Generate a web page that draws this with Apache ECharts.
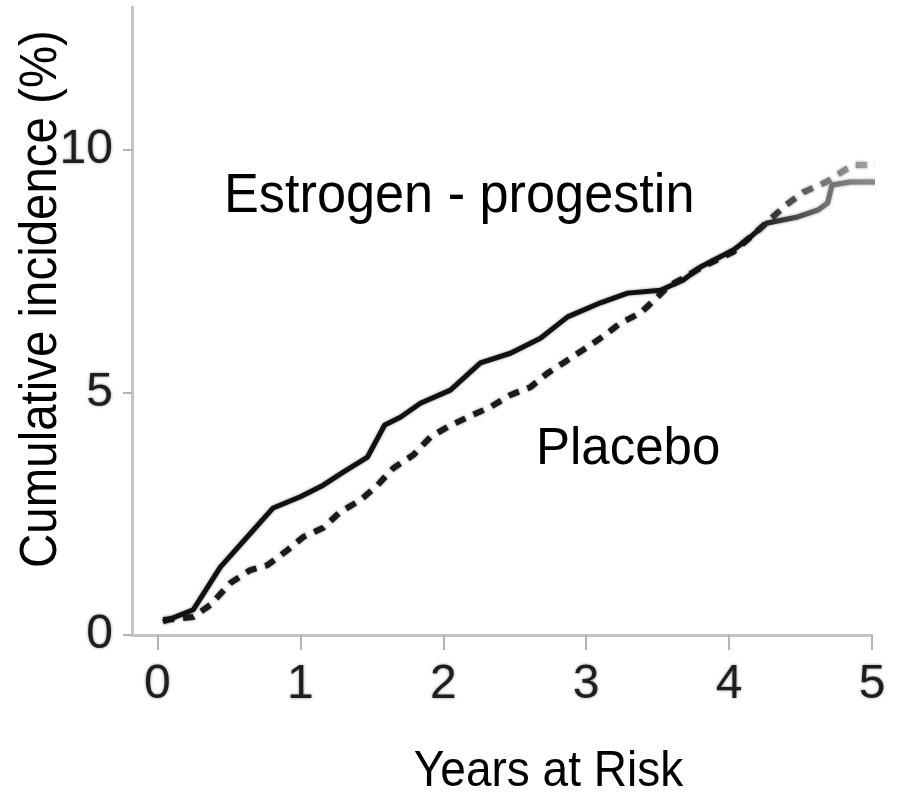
<!DOCTYPE html>
<html>
<head>
<meta charset="utf-8">
<script src="https://cdn.jsdelivr.net/npm/echarts@6/dist/echarts.min.js"></script>
<style>
  html, body { margin: 0; padding: 0; background: #fff; }
  #chart { width: 907px; height: 792px; }
</style>
</head>
<body>
<div id="chart"></div>
<script>
// Cumulative incidence (%) by years at risk, two treatment arms
const xTicks = [0, 1, 2, 3, 4, 5];
const xTickLabels = ['0', '1', '2', '3', '4', '5'];
const yTicks = [0, 5, 10];
const yTickLabels = ['0', '5', '10'];

const yearsEP = [0.04, 0.25, 0.44, 0.67, 0.81, 1.00, 1.16, 1.30, 1.47, 1.59, 1.70, 1.84, 2.05, 2.26, 2.47, 2.68, 2.87, 3.10, 3.29, 3.52, 3.68, 3.80, 4.03, 4.15, 4.26, 4.48, 4.62, 4.69, 4.72, 4.85, 5.17];
const incidenceEP = [0.27, 0.52, 1.40, 2.16, 2.62, 2.85, 3.09, 3.36, 3.67, 4.33, 4.49, 4.78, 5.05, 5.61, 5.81, 6.12, 6.56, 6.85, 7.05, 7.11, 7.32, 7.59, 7.94, 8.21, 8.49, 8.62, 8.76, 8.91, 9.28, 9.34, 9.34];

const yearsPlacebo = [0.04, 0.25, 0.37, 0.51, 0.65, 0.77, 0.91, 1.02, 1.16, 1.28, 1.42, 1.54, 1.65, 1.79, 1.91, 2.03, 2.17, 2.33, 2.47, 2.61, 2.73, 2.84, 2.98, 3.10, 3.24, 3.38, 3.50, 3.57, 3.68, 3.80, 4.03, 4.22, 4.40, 4.52, 4.68, 4.81, 4.88, 5.17];
const incidencePlacebo = [0.31, 0.37, 0.62, 1.07, 1.34, 1.44, 1.75, 2.02, 2.21, 2.54, 2.78, 3.09, 3.44, 3.71, 4.08, 4.29, 4.49, 4.70, 4.95, 5.11, 5.40, 5.61, 5.88, 6.12, 6.43, 6.64, 6.97, 7.18, 7.36, 7.57, 7.90, 8.39, 8.87, 9.13, 9.34, 9.59, 9.69, 9.69];

const pairs = (xs, ys) => xs.map((x, i) => [x, ys[i]]);

const tickFont = '"Liberation Sans", Arial, sans-serif';
const textFont = '"Liberation Sans", Arial, sans-serif';

const tickLabelStyle = {
  fontSize: 48,
  fontFamily: tickFont,
  color: '#1e1e1e',
  textShadowColor: 'rgba(0,0,0,0.45)',
  textShadowBlur: 3
};

const chart = echarts.init(document.getElementById('chart'), null, { renderer: 'canvas' });

chart.setOption({
  animation: false,
  backgroundColor: '#ffffff',
  grid: { left: 132, top: 7, width: 740, height: 628, containLabel: false },
  xAxis: {
    type: 'value',
    min: -0.178,
    max: 5,
    splitLine: { show: false },
    axisLine: { show: true, onZero: false, lineStyle: { color: '#c4c4c4', width: 3 } },
    axisTick: { show: true, customValues: xTicks, length: 15, lineStyle: { color: '#b4b4b4', width: 2 } },
    axisLabel: Object.assign({
      customValues: xTicks,
      formatter: v => xTickLabels[xTicks.indexOf(v)],
      margin: 26
    }, tickLabelStyle)
  },
  yAxis: {
    type: 'value',
    min: 0,
    max: 12.95,
    splitLine: { show: false },
    axisLine: { show: true, onZero: false, lineStyle: { color: '#c4c4c4', width: 3 } },
    axisTick: { show: true, customValues: yTicks, length: 9, lineStyle: { color: '#b4b4b4', width: 2 } },
    axisLabel: Object.assign({
      customValues: yTicks,
      formatter: v => yTickLabels[yTicks.indexOf(v)],
      margin: 19
    }, tickLabelStyle)
  },
  series: [
    {
      name: 'Estrogen - progestin',
      type: 'line',
      data: pairs(yearsEP, incidenceEP),
      symbol: 'none',
      clip: false,
      lineStyle: {
        width: 5,
        type: 'solid',
        shadowColor: 'rgba(0,0,0,0.45)',
        shadowBlur: 3,
        color: new echarts.graphic.LinearGradient(0, 0, 1, 0, [
          { offset: 0, color: '#111111' },
          { offset: 0.8, color: '#111111' },
          { offset: 0.9, color: '#6e6e6e' },
          { offset: 1, color: '#9a9a9a' }
        ])
      },
      z: 3
    },
    {
      name: 'Placebo',
      type: 'line',
      data: pairs(yearsPlacebo, incidencePlacebo),
      symbol: 'none',
      clip: false,
      lineStyle: {
        width: 6,
        type: [11, 9],
        shadowColor: 'rgba(0,0,0,0.45)',
        shadowBlur: 3,
        color: new echarts.graphic.LinearGradient(0, 0, 1, 0, [
          { offset: 0, color: '#1a1a1a' },
          { offset: 0.8, color: '#1a1a1a' },
          { offset: 0.9, color: '#777777' },
          { offset: 1, color: '#bdbdbd' }
        ])
      },
      z: 2
    }
  ],
  graphic: [
    {
      type: 'text', x: 41.5, y: 299, rotation: Math.PI / 2, scaleX: 0.93,
      style: { text: 'Cumulative incidence (%)', fontSize: 51, fontFamily: textFont, fill: '#000', align: 'center', verticalAlign: 'middle' }
    },
    {
      type: 'text', x: 548.5, y: 772, scaleX: 0.92,
      style: { text: 'Years at Risk', fontSize: 50, fontFamily: textFont, fill: '#000', align: 'center', verticalAlign: 'middle' }
    },
    {
      type: 'text', x: 224, y: 197, scaleX: 0.95,
      style: { text: 'Estrogen - progestin', fontSize: 55, fontFamily: textFont, fill: '#000', align: 'left', verticalAlign: 'middle' }
    },
    {
      type: 'text', x: 536, y: 450,
      style: { text: 'Placebo', fontSize: 51, fontFamily: textFont, fill: '#000', align: 'left', verticalAlign: 'middle' }
    }
  ]
});
</script>
</body>
</html>
